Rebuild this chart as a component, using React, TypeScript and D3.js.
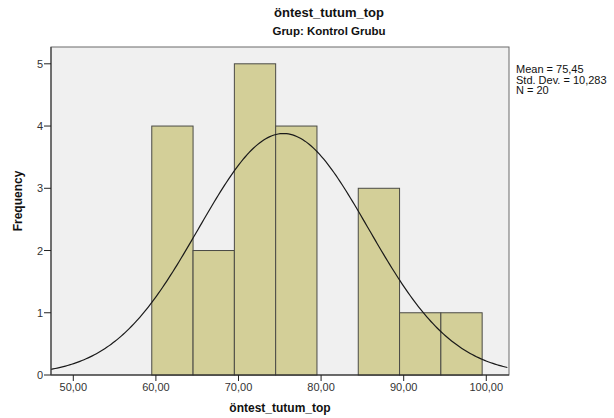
import React from 'react';
import * as d3 from 'd3';

const binEdges = [59.5, 64.5, 69.5, 74.5, 79.5, 84.5, 89.5, 94.5, 99.5];
const binCounts = [4, 2, 5, 4, 0, 3, 1, 1];
const xTicks = [50, 60, 70, 80, 90, 100];
const yTicks = [0, 1, 2, 3, 4, 5];
const statLines = ['Mean = 75,45', 'Std. Dev. = 10,283', 'N = 20'];
const mean = 75.45;
const sd = 10.283;
const n = 20;

const W = 614;
const H = 418;
const plot = { left: 51, right: 509, top: 47, bottom: 375 };
const font = '"Liberation Sans", Arial, sans-serif';

const App = () => {
  const x = d3.scaleLinear().domain([47.3, 102.75]).range([plot.left, plot.right]);
  const y = d3.scaleLinear().domain([0, 5.27]).range([plot.bottom, plot.top]);

  // normal curve scaled to counts per bin
  const binW = binEdges[1] - binEdges[0];
  const pdf = (v: number) =>
    (n * binW) / (sd * Math.sqrt(2 * Math.PI)) * Math.exp(-0.5 * ((v - mean) / sd) ** 2);
  const curvePts = d3.range(47.3, 102.8, 0.25).map(v => [v, pdf(v)] as [number, number]);
  const line = d3.line<[number, number]>().x(d => x(d[0])).y(d => y(d[1]));

  const fmt = (v: number) => v.toFixed(2).replace('.', ',');

  return (
    <svg width={W} height={H} style={{ position: 'absolute', left: 0, top: 0, background: '#fff' }} fontFamily={font}>
      <defs>
        <clipPath id="plotClip">
          <rect x={plot.left} y={plot.top} width={plot.right - plot.left} height={plot.bottom - plot.top} />
        </clipPath>
      </defs>
      <text x={329} y={17} textAnchor="middle" fontSize={13} fontWeight="bold" fill="#111">öntest_tutum_top</text>
      <text x={329} y={35} textAnchor="middle" fontSize={11.5} fontWeight="bold" fill="#111">Grup: Kontrol Grubu</text>

      <rect x={plot.left} y={plot.top} width={plot.right - plot.left} height={plot.bottom - plot.top} fill="#f0f0f0" stroke="#6b6b6b" strokeWidth={1} />

      {binCounts.map((c, i) =>
        c > 0 ? (
          <rect key={i} x={x(binEdges[i])} y={y(c)} width={x(binEdges[i + 1]) - x(binEdges[i])} height={y(0) - y(c)}
            fill="#d3cf98" stroke="#4a4a45" strokeWidth={1} />
        ) : null
      )}

      <path d={line(curvePts) || ''} fill="none" stroke="#1a1a1a" strokeWidth={1.2} clipPath="url(#plotClip)" />

      <line x1={plot.left} x2={plot.right} y1={plot.bottom} y2={plot.bottom} stroke="#222" strokeWidth={1.2} />
      <line x1={plot.left} x2={plot.left} y1={plot.top} y2={plot.bottom} stroke="#444" strokeWidth={1.2} />

      {yTicks.map(t => (
        <g key={t}>
          <line x1={plot.left - 7} x2={plot.left} y1={y(t)} y2={y(t)} stroke="#222" />
          <text x={plot.left - 8} y={y(t) + 4} textAnchor="end" fontSize={11} fill="#333">{t}</text>
        </g>
      ))}
      {xTicks.map(t => (
        <g key={t}>
          <line x1={x(t)} x2={x(t)} y1={plot.bottom} y2={plot.bottom + 6} stroke="#222" />
          <text x={x(t)} y={plot.bottom + 16} textAnchor="middle" fontSize={11} fill="#333">{fmt(t)}</text>
        </g>
      ))}

      <text x={280} y={412} textAnchor="middle" fontSize={12} fontWeight="bold" fill="#111">öntest_tutum_top</text>
      <text transform={`translate(22,${(plot.top + plot.bottom) / 2 - 10}) rotate(-90)`} textAnchor="middle" fontSize={12} fontWeight="bold" fill="#111">Frequency</text>

      {statLines.map((s, i) => (
        <text key={i} x={516} y={73 + i * 10.5} fontSize={11} fill="#111">{s}</text>
      ))}
    </svg>
  );
};

export default App;
